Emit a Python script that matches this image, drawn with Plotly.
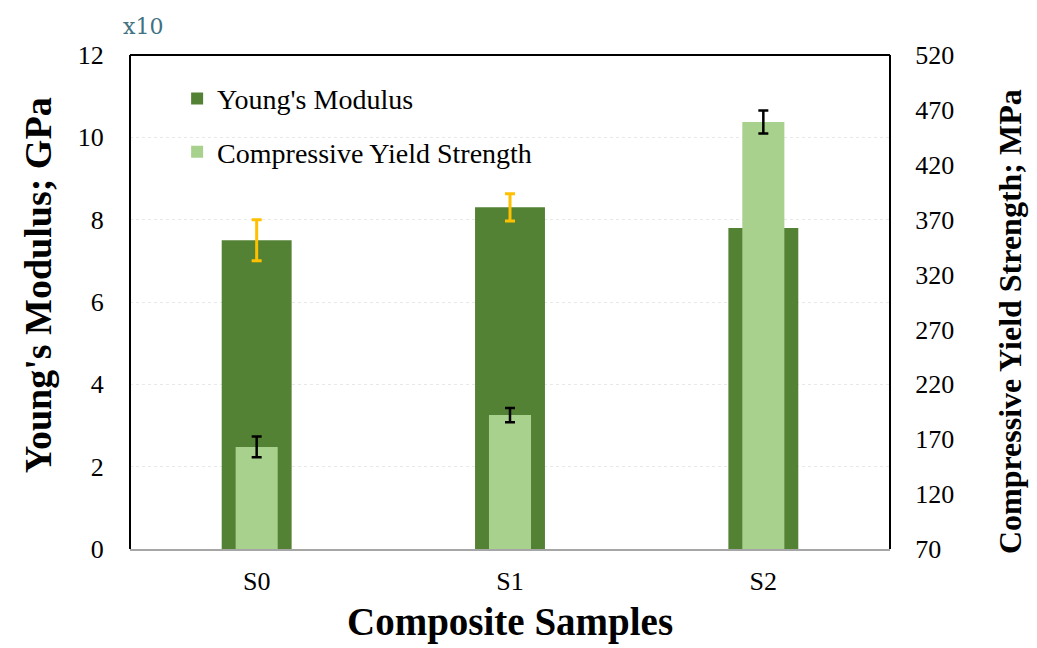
import plotly.graph_objects as go

samples = ["S0", "S1", "S2"]
youngs_modulus = [7.5, 8.3, 7.8]
youngs_err = [0.5, 0.33, 0.3]
yield_strength = [163, 192, 459]
yield_err = [9.5, 6.5, 10.5]

left_ticks = [0, 2, 4, 6, 8, 10, 12]
right_ticks = [70, 120, 170, 220, 270, 320, 370, 420, 470, 520]

DARK = "#548235"
LIGHT = "#A9D18E"
FONT = "Liberation Serif"

fig = go.Figure()
fig.add_trace(go.Bar(
    x=samples, y=youngs_modulus, name="Young's Modulus",
    marker=dict(color=DARK, line=dict(width=0)), width=0.276,
    error_y=dict(type="data", array=youngs_err, color="#FFC000", thickness=3, width=5),
    yaxis="y", legendgroup="a",
))
fig.add_trace(go.Bar(
    x=samples, y=yield_strength, name="Compressive Yield Strength",
    marker=dict(color=LIGHT, line=dict(width=0)), width=0.166,
    error_y=dict(type="data", array=yield_err, color="black", thickness=2.5, width=5),
    yaxis="y2", legendgroup="b",
))

fig.update_layout(
    width=1037, height=648,
    margin=dict(l=130, r=147, t=55, b=99, autoexpand=False),
    paper_bgcolor="white", plot_bgcolor="white",
    barmode="overlay",
    font=dict(family=FONT, size=26, color="black"),
    showlegend=True,
    legend=dict(x=0.062, y=0.962, xanchor="left", yanchor="top",
                bgcolor="rgba(0,0,0,0)", font=dict(size=28, family=FONT),
                tracegroupgap=14, traceorder="grouped"),
    xaxis=dict(
        showline=True, linecolor="#a6a6a6", linewidth=2,
        ticks="outside", ticklen=8, tickcolor="rgba(0,0,0,0)",
        tickfont=dict(size=26, family=FONT, color="black"),
        automargin=False,
    ),
    yaxis=dict(
        range=[0, 12], tickvals=left_ticks, showline=False,
        showgrid=True, gridcolor="#e8e8e8", griddash="dot", gridwidth=1,
        zeroline=False, automargin=False,
        ticks="outside", ticklen=20, tickcolor="rgba(0,0,0,0)",
        tickfont=dict(size=26, family=FONT, color="black"),
    ),
    yaxis2=dict(
        range=[70, 520], tickvals=right_ticks, overlaying="y", side="right",
        showgrid=False, zeroline=False, showline=False, automargin=False,
        ticks="outside", ticklen=19, tickcolor="rgba(0,0,0,0)",
        tickfont=dict(size=26, family=FONT, color="black"),
    ),
    shapes=[
        dict(type="line", xref="paper", yref="paper", x0=0, x1=0, y0=0, y1=1,
             line=dict(color="black", width=2)),
        dict(type="line", xref="paper", yref="paper", x0=0, x1=1, y0=1, y1=1,
             line=dict(color="black", width=2)),
        dict(type="line", xref="paper", yref="paper", x0=1, x1=1, y0=0, y1=1,
             line=dict(color="black", width=2)),
    ],
    annotations=[
        dict(text="x10", xref="paper", yref="paper", x=0.017, y=1.057,
             xanchor="center", yanchor="middle", showarrow=False,
             font=dict(family="DejaVu Serif", size=22, color="#3f7282")),
        dict(text="<b>Young's Modulus; GPa</b>", xref="paper", yref="paper",
             x=-0.121, y=0.534, xanchor="center", yanchor="middle", textangle=-90,
             showarrow=False, font=dict(family=FONT, size=38, color="black")),
        dict(text="<b>Compressive Yield Strength; MPa</b>", xref="paper", yref="paper",
             x=1.158, y=0.4595, xanchor="center", yanchor="middle", textangle=-90,
             showarrow=False, font=dict(family=FONT, size=32, color="black")),
        dict(text="<b>Composite Samples</b>", xref="paper", yref="paper",
             x=0.5, y=-0.148, xanchor="center", yanchor="middle",
             showarrow=False, font=dict(family=FONT, size=39, color="black")),
    ],
)

fig.write_html("out.html")
